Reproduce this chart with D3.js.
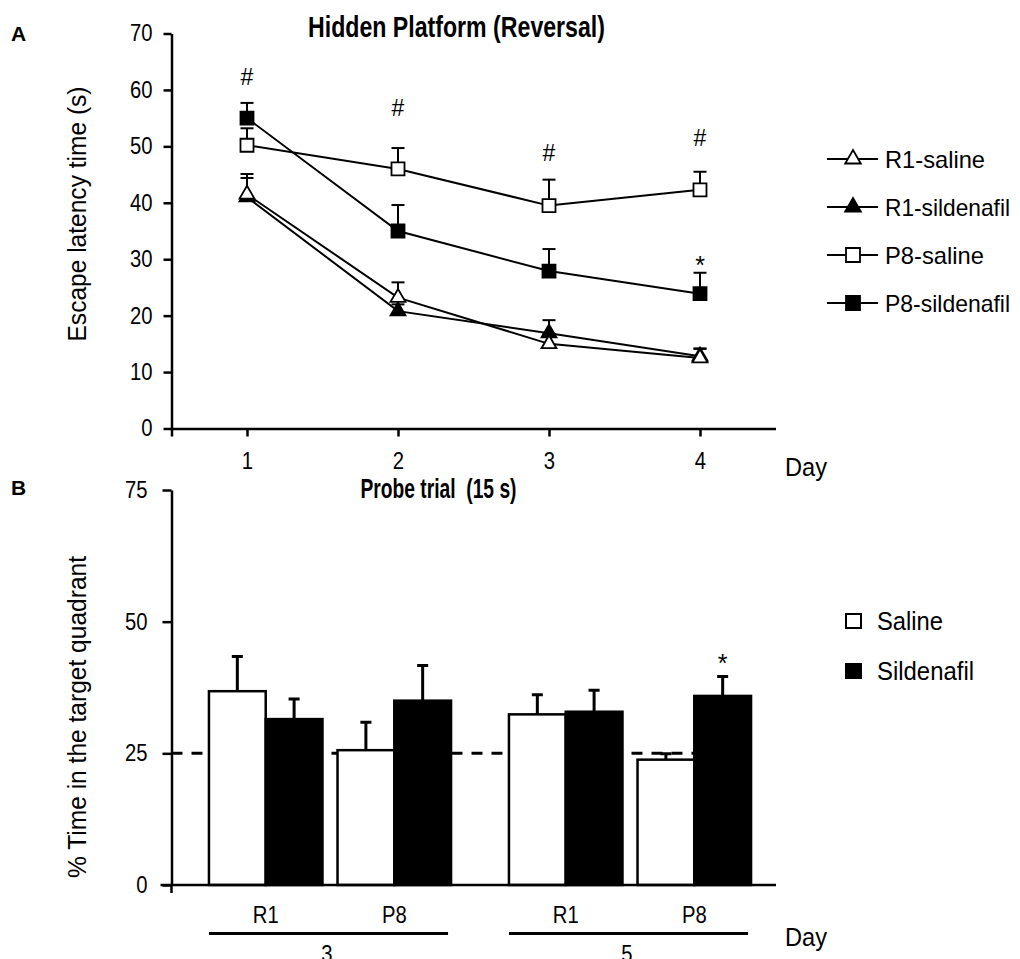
<!DOCTYPE html>
<html>
<head>
<meta charset="utf-8">
<style>
  body { margin: 0; background: #fff; }
  svg text { font-family: "Liberation Sans", Arial, Helvetica, sans-serif; fill: #000; }
  .axis path, .axis line { stroke: #000; stroke-width: 2.5px; }
  .axis text { font-size: 23px; font-family: "Liberation Sans", Arial, sans-serif; }
</style>
<script src="https://cdn.jsdelivr.net/npm/d3@7"></script>
</head>
<body>
<div id="chart"></div>
<script>
// ---- Panel A: hidden platform (reversal), escape latency per day ----
var days = [1, 2, 3, 4];
var latencyTicks = [0, 10, 20, 30, 40, 50, 60, 70];

var r1Saline    = [41.5, 23.2, 15.0, 12.5];
var r1SalineErr = [3.6, 2.7, 1.8, 1.6];
var r1Sild      = [41.0, 20.8, 16.9, 12.8];
var r1SildErr   = [3.4, 1.2, 2.3, 1.4];
var p8Saline    = [50.2, 46.0, 39.5, 42.3];
var p8SalineErr = [3.0, 3.7, 4.6, 3.2];
var p8Sild      = [55.0, 35.0, 27.9, 23.9];
var p8SildErr   = [2.7, 4.6, 3.9, 3.7];

// significance marks (value level in s)
var hashLevel = [62.3, 56.8, 48.9, 51.5];
var starDayA = [4];
var starLevelA = [30.0];

// ---- Panel B: probe trial, % time in target quadrant ----
var probeDays = ["3", "5"];
var strains = ["R1", "P8"];
var treatments = ["Saline", "Sildenafil"];
var probeTicks = [0, 25, 50, 75];
// order: day3 R1, day3 P8, day5 R1, day5 P8
var salineProbe    = [36.8, 25.6, 32.4, 23.8];
var salineProbeErr = [6.6, 5.3, 3.7, 1.1];
var sildProbe      = [31.5, 35.0, 32.9, 35.9];
var sildProbeErr   = [3.8, 6.7, 4.1, 3.7];
var chanceLevel = 25;
var probeStar = { day: "5", strain: "P8", treat: "Sildenafil", level: 43.3 };

// ---------------------------------------------------------------
var W = 1020, H = 959;
var svg = d3.select("#chart").append("svg")
    .attr("width", W).attr("height", H);

// the original uses a narrow helvetica, so squeeze glyphs horizontally
function fit(sel, w) {
  sel.attr("textLength", w).attr("lengthAdjust", "spacingAndGlyphs");
  return sel;
}
function squeeze(sel, k) {
  sel.each(function() {
    var w = this.getComputedTextLength();
    if (w > 0) d3.select(this).attr("textLength", w * k).attr("lengthAdjust", "spacingAndGlyphs");
  });
  return sel;
}

// ===== Panel A =====
var xA = d3.scaleLinear().domain([0.5, 4.5]).range([171.5, 775.5]);
var yA = d3.scaleLinear().domain([0, 70]).range([428.5, 33.5]);

var gA = svg.append("g");

var yAxisA = gA.append("g").attr("class", "axis")
    .attr("transform", "translate(" + xA(0.5) + ",0)")
    .call(d3.axisLeft(yA).tickValues(latencyTicks).tickSize(8).tickPadding(11).tickSizeOuter(0));

var xAxisA = gA.append("g").attr("class", "axis")
    .attr("transform", "translate(0," + yA(0) + ")")
    .call(d3.axisBottom(xA).tickValues([0.5].concat(days))
      .tickFormat(function(d) { return d === 0.5 ? "" : d; })
      .tickSize(8).tickPadding(16).tickSizeOuter(0));

squeeze(yAxisA.selectAll("text"), 0.88);
squeeze(xAxisA.selectAll("text"), 0.88);

var seriesA = [
  { name: "P8-saline",     mean: p8Saline, err: p8SalineErr, shape: d3.symbolSquare,   fill: "#fff" },
  { name: "P8-sildenafil", mean: p8Sild,   err: p8SildErr,   shape: d3.symbolSquare,   fill: "#000" },
  { name: "R1-sildenafil", mean: r1Sild,   err: r1SildErr,   shape: d3.symbolTriangle, fill: "#000" },
  { name: "R1-saline",     mean: r1Saline, err: r1SalineErr, shape: d3.symbolTriangle, fill: "#fff" }
];

var line = d3.line()
    .x(function(d, i) { return xA(days[i]); })
    .y(function(d) { return yA(d); });

seriesA.forEach(function(s) {
  gA.append("path")
      .attr("d", line(s.mean))
      .attr("fill", "none").attr("stroke", "#000").attr("stroke-width", 2);
});

seriesA.forEach(function(s) {
  var g = gA.append("g");
  days.forEach(function(d, i) {
    var x = xA(d), y0 = yA(s.mean[i]), y1 = yA(s.mean[i] + s.err[i]);
    g.append("line").attr("x1", x).attr("x2", x).attr("y1", y0).attr("y2", y1)
        .attr("stroke", "#000").attr("stroke-width", 2);
    g.append("line").attr("x1", x - 6.5).attr("x2", x + 6.5).attr("y1", y1).attr("y2", y1)
        .attr("stroke", "#000").attr("stroke-width", 2);
  });
});

seriesA.forEach(function(s) {
  var sym = d3.symbol().type(s.shape).size(s.shape === d3.symbolSquare ? 169 : 97);
  gA.selectAll(null).data(s.mean).enter().append("path")
      .attr("d", sym)
      .attr("transform", function(d, i) { return "translate(" + xA(days[i]) + "," + yA(d) + ")"; })
      .attr("fill", s.fill).attr("stroke", "#000").attr("stroke-width", 1.8);
});

gA.selectAll(".hash").data(hashLevel).enter().append("text")
    .attr("class", "hash")
    .attr("x", function(d, i) { return xA(days[i]); })
    .attr("y", function(d) { return yA(d); })
    .attr("dy", "0.36em")
    .attr("text-anchor", "middle")
    .style("font-size", "23px")
    .text("#");

gA.selectAll(".starA").data(starDayA).enter().append("text")
    .attr("class", "starA")
    .attr("x", function(d) { return xA(d); })
    .attr("y", function(d, i) { return yA(starLevelA[i]); })
    .attr("dy", "0.6em")
    .attr("text-anchor", "middle")
    .style("font-size", "25px")
    .text("*");

fit(gA.append("text")
    .attr("x", 456.5).attr("y", 37)
    .attr("text-anchor", "middle")
    .style("font-size", "29px").style("font-weight", "bold")
    .text("Hidden Platform (Reversal)"), 297);

gA.append("text").attr("x", 11).attr("y", 41)
    .style("font-size", "21px").style("font-weight", "bold").text("A");

fit(gA.append("text")
    .attr("transform", "translate(86," + 214 + ") rotate(-90)")
    .attr("text-anchor", "middle")
    .style("font-size", "25px")
    .text("Escape latency time (s)"), 255);

fit(gA.append("text").attr("x", 785).attr("y", 476)
    .style("font-size", "26px").text("Day"), 42);

// legend A
var legA = gA.append("g").attr("transform", "translate(827,159)");
var legOrder = ["R1-saline", "R1-sildenafil", "P8-saline", "P8-sildenafil"];
var legWidth = [100, 125, 99, 125];
legOrder.forEach(function(name, i) {
  var s = seriesA.filter(function(t) { return t.name === name; })[0];
  var row = legA.append("g").attr("transform", "translate(0," + (i * 48) + ")");
  row.append("line").attr("x1", 0).attr("x2", 51).attr("y1", 0).attr("y2", 0)
      .attr("stroke", "#000").attr("stroke-width", 2);
  row.append("path")
      .attr("d", d3.symbol().type(s.shape).size(s.shape === d3.symbolSquare ? 196 : 106))
      .attr("transform", "translate(26,0)")
      .attr("fill", s.fill).attr("stroke", "#000").attr("stroke-width", 1.8);
  fit(row.append("text").attr("x", 58).attr("y", 8.5)
      .style("font-size", "24px").text(name), legWidth[i]);
});

// ===== Panel B =====
var yB = d3.scaleLinear().domain([0, 75]).range([885, 490]);
var xDay = d3.scaleBand().domain(probeDays).range([180, 780])
    .paddingInner(0.193).paddingOuter(0.0965);
var xStrain = d3.scaleBand().domain(strains).range([0, xDay.bandwidth()]).paddingInner(0.117);
var xTreat = d3.scaleBand().domain(treatments).range([0, xStrain.bandwidth()]);

var rowsB = [];
probeDays.forEach(function(day, di) {
  strains.forEach(function(st, si) {
    var k = di * strains.length + si;
    rowsB.push({ day: day, strain: st, treat: "Saline", v: salineProbe[k], e: salineProbeErr[k] });
    rowsB.push({ day: day, strain: st, treat: "Sildenafil", v: sildProbe[k], e: sildProbeErr[k] });
  });
});
function barX(d) { return xDay(d.day) + xStrain(d.strain) + xTreat(d.treat); }

var gB = svg.append("g");
var axisXB = 171.5;

var yAxisB = gB.append("g").attr("class", "axis")
    .attr("transform", "translate(" + axisXB + ",0)")
    .call(d3.axisLeft(yB).tickValues(probeTicks).tickSize(9).tickPadding(15).tickSizeOuter(0));
squeeze(yAxisB.selectAll("text"), 0.88);

// chance line
gB.append("line")
    .attr("x1", axisXB).attr("x2", xDay("5") + xDay.bandwidth())
    .attr("y1", yB(chanceLevel)).attr("y2", yB(chanceLevel))
    .attr("stroke", "#000").attr("stroke-width", 3).attr("stroke-dasharray", "11,9");

// error bars
gB.selectAll(".errB").data(rowsB).enter().append("path")
    .attr("class", "errB")
    .attr("d", function(d) {
      var cx = barX(d) + xTreat.bandwidth() / 2, y0 = yB(d.v), y1 = yB(d.v + d.e);
      return "M" + cx + "," + y0 + "V" + y1 + "M" + (cx - 5.5) + "," + y1 + "H" + (cx + 5.5);
    })
    .attr("fill", "none").attr("stroke", "#000").attr("stroke-width", 3);

gB.selectAll(".bar").data(rowsB).enter().append("rect")
    .attr("class", "bar")
    .attr("x", barX)
    .attr("y", function(d) { return yB(d.v); })
    .attr("width", xTreat.bandwidth())
    .attr("height", function(d) { return yB(0) - yB(d.v); })
    .attr("fill", function(d) { return d.treat === "Saline" ? "#fff" : "#000"; })
    .attr("stroke", "#000").attr("stroke-width", 2.5);

// x baseline
gB.append("path")
    .attr("d", "M" + (axisXB - 11) + "," + yB(0) + "H" + 776 + "M" + axisXB + "," + yB(0) + "V" + (yB(0) + 8))
    .attr("fill", "none").attr("stroke", "#000").attr("stroke-width", 2.5);

gB.append("text")
    .attr("x", xDay(probeStar.day) + xStrain(probeStar.strain) + xTreat(probeStar.treat) + xTreat.bandwidth() / 2)
    .attr("y", yB(probeStar.level)).attr("dy", "0.6em")
    .attr("text-anchor", "middle").style("font-size", "25px").text("*");

// strain labels, day group lines
probeDays.forEach(function(day) {
  strains.forEach(function(st) {
    squeeze(gB.append("text")
        .attr("x", xDay(day) + xStrain(st) + xStrain.bandwidth() / 2)
        .attr("y", 923).attr("text-anchor", "middle")
        .style("font-size", "23px").text(st), 0.88);
  });
  gB.append("line")
      .attr("x1", xDay(day)).attr("x2", xDay(day) + xDay.bandwidth() - 3)
      .attr("y1", 933.5).attr("y2", 933.5)
      .attr("stroke", "#000").attr("stroke-width", 3);
  squeeze(gB.append("text")
      .attr("x", xDay(day) + xDay.bandwidth() / 2 - 3)
      .attr("y", 962).attr("text-anchor", "middle")
      .style("font-size", "23px").text(day), 0.88);
});

fit(gB.append("text").attr("x", 785).attr("y", 946)
    .style("font-size", "26px").text("Day"), 42);

fit(gB.append("text")
    .attr("x", 438.5).attr("y", 498)
    .attr("text-anchor", "middle")
    .style("font-size", "28px").style("font-weight", "bold").style("white-space", "pre")
    .text("Probe trial  (15 s)"), 156);

gB.append("text").attr("x", 11).attr("y", 495)
    .style("font-size", "21px").style("font-weight", "bold").text("B");

fit(gB.append("text")
    .attr("transform", "translate(86," + 717 + ") rotate(-90)")
    .attr("text-anchor", "middle")
    .style("font-size", "25px")
    .text("% Time in the target quadrant"), 322);

// legend B
var legB = gB.append("g").attr("transform", "translate(845,613)");
var legBWidth = [66, 97];
treatments.forEach(function(t, i) {
  var row = legB.append("g").attr("transform", "translate(0," + (i * 50) + ")");
  row.append("rect").attr("x", 1).attr("y", 1).attr("width", 15).attr("height", 14)
      .attr("fill", t === "Saline" ? "#fff" : "#000")
      .attr("stroke", "#000").attr("stroke-width", 2);
  fit(row.append("text").attr("x", 32).attr("y", 17)
      .style("font-size", "25px").text(t), legBWidth[i]);
});
</script>
</body>
</html>
